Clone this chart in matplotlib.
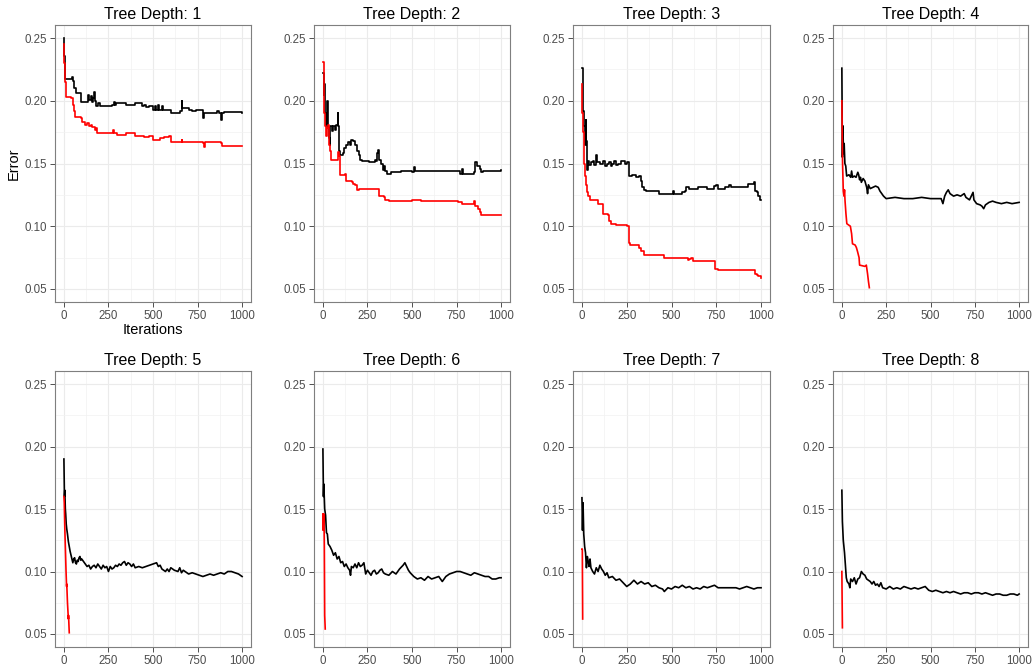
import matplotlib
matplotlib.use("Agg")
import matplotlib.pyplot as plt
from matplotlib.ticker import MultipleLocator

plt.rcParams['font.family'] = ['Liberation Sans', 'DejaVu Sans']

depths = [1, 2, 3, 4, 5, 6, 7, 8]
x_ticks = [0, 250, 500, 750, 1000]
y_ticks = [0.05, 0.10, 0.15, 0.20, 0.25]
y_tick_labels = ["0.05", "0.10", "0.15", "0.20", "0.25"]

# ---------------- Depth 1 ----------------
test_x_1 = [0, 3, 8, 45, 50, 58, 68, 98, 135, 138, 142, 150, 158, 165, 170, 173, 180, 190, 200, 270, 280, 285, 295,
            350, 400, 440, 450, 460, 480, 500, 510, 515, 530, 535, 550, 555, 600, 650, 660, 665, 700, 720, 740, 775,
            780, 785, 850, 860, 870, 880, 885, 900, 1000]
test_y_1 = [0.250, 0.236, 0.217, 0.219, 0.216, 0.210, 0.206, 0.199, 0.199, 0.205, 0.201, 0.204, 0.199, 0.202, 0.207,
            0.200, 0.196, 0.198, 0.196, 0.197, 0.199, 0.197, 0.198, 0.197, 0.198, 0.196, 0.197, 0.195, 0.196, 0.193,
            0.196, 0.193, 0.197, 0.193, 0.196, 0.193, 0.190, 0.192, 0.200, 0.194, 0.193, 0.192, 0.193, 0.193, 0.186,
            0.190, 0.190, 0.192, 0.190, 0.185, 0.190, 0.191, 0.190]
train_x_1 = [0, 3, 6, 9, 40, 50, 58, 63, 95, 100, 120, 130, 140, 150, 160, 175, 180, 185, 270, 278, 282, 300, 350,
             390, 400, 450, 480, 500, 540, 560, 590, 600, 660, 665, 780, 785, 790, 880, 890, 1000]
train_y_1 = [0.245, 0.230, 0.215, 0.203, 0.202, 0.197, 0.192, 0.187, 0.186, 0.183, 0.181, 0.182, 0.180, 0.181, 0.179,
             0.177, 0.178, 0.174, 0.174, 0.177, 0.174, 0.173, 0.174, 0.174, 0.172, 0.171, 0.172, 0.169, 0.170, 0.171,
             0.172, 0.167, 0.169, 0.167, 0.166, 0.163, 0.167, 0.166, 0.164, 0.164]

# ---------------- Depth 2 ----------------
test_x_2 = [0, 4, 8, 12, 18, 24, 28, 33, 38, 42, 50, 58, 66, 74, 82, 86, 90, 95, 110, 120, 130, 140, 150, 160, 170,
            180, 190, 200, 210, 220, 260, 290, 300, 305, 310, 315, 325, 335, 345, 350, 360, 380, 420, 440, 500, 510,
            515, 700, 760, 770, 780, 785, 850, 855, 865, 880, 890, 900, 1000]
test_y_2 = [0.222, 0.205, 0.213, 0.190, 0.180, 0.200, 0.178, 0.170, 0.165, 0.180, 0.176, 0.180, 0.177, 0.181, 0.190,
            0.180, 0.160, 0.157, 0.158, 0.162, 0.165, 0.167, 0.165, 0.169, 0.168, 0.165, 0.160, 0.157, 0.153, 0.152,
            0.151, 0.153, 0.152, 0.158, 0.161, 0.153, 0.150, 0.145, 0.148, 0.144, 0.142, 0.143, 0.143, 0.144, 0.143,
            0.147, 0.144, 0.144, 0.144, 0.142, 0.146, 0.142, 0.143, 0.151, 0.148, 0.146, 0.143, 0.144, 0.145]
train_x_2 = [0, 4, 8, 12, 16, 24, 30, 35, 40, 45, 80, 85, 92, 95, 125, 130, 165, 170, 180, 190, 200, 305, 315, 345,
             350, 370, 450, 500, 550, 650, 760, 780, 850, 855, 870, 880, 890, 1000]
train_y_2 = [0.231, 0.210, 0.190, 0.180, 0.172, 0.178, 0.181, 0.165, 0.160, 0.153, 0.153, 0.159, 0.156, 0.141, 0.142,
             0.136, 0.135, 0.134, 0.133, 0.129, 0.130, 0.130, 0.124, 0.123, 0.121, 0.120, 0.120, 0.121, 0.120, 0.120,
             0.119, 0.118, 0.120, 0.116, 0.114, 0.111, 0.109, 0.109]

# ---------------- Depth 3 ----------------
test_x_3 = [0, 4, 8, 12, 16, 20, 24, 28, 32, 40, 50, 60, 70, 80, 85, 100, 120, 130, 140, 150, 160, 170, 180, 190, 200,
            220, 240, 250, 260, 265, 280, 300, 320, 330, 335, 345, 360, 420, 430, 500, 510, 515, 560, 575, 580, 600,
            650, 700, 740, 750, 760, 800, 820, 830, 920, 925, 960, 965, 975, 985, 995, 1000]
test_y_3 = [0.226, 0.212, 0.192, 0.180, 0.165, 0.185, 0.168, 0.145, 0.152, 0.149, 0.151, 0.152, 0.149, 0.157, 0.151,
            0.150, 0.152, 0.148, 0.150, 0.151, 0.148, 0.150, 0.152, 0.149, 0.150, 0.152, 0.150, 0.151, 0.145, 0.140,
            0.141, 0.139, 0.140, 0.136, 0.131, 0.129, 0.128, 0.128, 0.126, 0.126, 0.128, 0.126, 0.127, 0.128, 0.131,
            0.130, 0.131, 0.130, 0.132, 0.133, 0.130, 0.131, 0.133, 0.131, 0.131, 0.134, 0.135, 0.128, 0.127, 0.124,
            0.121, 0.121]
train_x_3 = [0, 3, 6, 9, 13, 18, 22, 26, 35, 45, 90, 115, 120, 145, 150, 160, 190, 250, 260, 265, 270, 320, 330, 345,
             450, 460, 580, 590, 600, 610, 620, 640, 730, 745, 760, 960, 965, 975, 985, 1000]
train_y_3 = [0.213, 0.190, 0.175, 0.160, 0.150, 0.140, 0.133, 0.127, 0.124, 0.121, 0.118, 0.117, 0.110, 0.109, 0.104,
             0.102, 0.101, 0.100, 0.092, 0.087, 0.085, 0.083, 0.080, 0.077, 0.077, 0.075, 0.075, 0.073, 0.074, 0.075,
             0.072, 0.072, 0.072, 0.066, 0.065, 0.065, 0.062, 0.061, 0.060, 0.059]

# ---------------- Depth 4 ----------------
test_x_4 = [0, 3, 6, 9, 13, 17, 22, 27, 40, 50, 55, 60, 70, 80, 90, 95, 100, 105, 110, 120, 130, 140, 145, 150, 160,
            175, 190, 205, 215, 225, 235, 250, 300, 350, 400, 450, 500, 560, 570, 580, 590, 600, 610, 630, 650, 670,
            690, 700, 720, 740, 745, 760, 780, 790, 800, 810, 830, 850, 870, 900, 930, 960, 1000]
test_y_4 = [0.226, 0.155, 0.180, 0.158, 0.166, 0.150, 0.148, 0.140, 0.141, 0.139, 0.144, 0.139, 0.140, 0.139, 0.143,
            0.141, 0.137, 0.139, 0.135, 0.138, 0.136, 0.131, 0.126, 0.133, 0.130, 0.131, 0.132, 0.131, 0.128, 0.126,
            0.124, 0.122, 0.123, 0.122, 0.122, 0.123, 0.122, 0.122, 0.118, 0.124, 0.127, 0.129, 0.126, 0.124, 0.125,
            0.124, 0.126, 0.123, 0.121, 0.127, 0.121, 0.118, 0.117, 0.116, 0.114, 0.117, 0.119, 0.120, 0.119, 0.118,
            0.119, 0.118, 0.119]
train_x_4 = [0, 4, 8, 12, 15, 18, 23, 28, 48, 55, 60, 75, 82, 88, 97, 100, 130, 138, 145, 150, 155]
train_y_4 = [0.200, 0.150, 0.128, 0.124, 0.129, 0.120, 0.110, 0.102, 0.100, 0.094, 0.086, 0.085, 0.083, 0.080, 0.075,
             0.069, 0.068, 0.069, 0.062, 0.056, 0.051]

# ---------------- Depth 5 ----------------
test_x_5 = [0, 3, 5, 8, 10, 13, 16, 20, 25, 30, 35, 40, 45, 50, 55, 60, 65, 70, 75, 80, 85, 90, 95, 100, 110, 120,
            130, 140, 150, 160, 170, 180, 190, 200, 210, 220, 230, 240, 250, 260, 270, 280, 290, 300, 310, 320, 330,
            340, 350, 360, 370, 380, 390, 400, 420, 440, 460, 480, 500, 520, 530, 540, 550, 560, 570, 580, 590, 600,
            620, 640, 650, 660, 670, 680, 700, 720, 740, 760, 780, 800, 820, 840, 860, 880, 900, 920, 940, 960, 980,
            1000]
test_y_5 = [0.190, 0.160, 0.165, 0.150, 0.146, 0.138, 0.134, 0.130, 0.124, 0.120, 0.116, 0.113, 0.110, 0.107, 0.110,
            0.111, 0.107, 0.106, 0.109, 0.108, 0.111, 0.112, 0.109, 0.110, 0.108, 0.106, 0.104, 0.105, 0.102, 0.104,
            0.105, 0.103, 0.106, 0.104, 0.102, 0.105, 0.103, 0.104, 0.100, 0.104, 0.102, 0.103, 0.105, 0.104, 0.106,
            0.105, 0.107, 0.108, 0.105, 0.107, 0.106, 0.104, 0.106, 0.103, 0.104, 0.103, 0.104, 0.105, 0.106, 0.107,
            0.104, 0.105, 0.102, 0.101, 0.100, 0.102, 0.100, 0.103, 0.101, 0.100, 0.103, 0.099, 0.101, 0.100, 0.098,
            0.099, 0.098, 0.097, 0.096, 0.097, 0.098, 0.097, 0.098, 0.099, 0.098, 0.100, 0.100, 0.099, 0.098, 0.096]
train_x_5 = [0, 2, 5, 8, 12, 15, 16, 20, 25, 26, 30]
train_y_5 = [0.160, 0.155, 0.135, 0.120, 0.100, 0.088, 0.090, 0.075, 0.062, 0.065, 0.051]

# ---------------- Depth 6 ----------------
test_x_6 = [0, 3, 5, 10, 15, 20, 25, 30, 40, 50, 60, 70, 80, 90, 100, 110, 120, 130, 140, 150, 155, 160, 170, 180,
            190, 200, 210, 220, 230, 240, 250, 260, 270, 280, 290, 300, 310, 320, 330, 340, 350, 370, 390, 410, 430,
            450, 460, 470, 480, 490, 510, 530, 550, 570, 590, 610, 630, 650, 670, 690, 710, 730, 750, 770, 790, 810,
            830, 850, 870, 890, 910, 930, 950, 970, 990, 1000]
test_y_6 = [0.198, 0.160, 0.170, 0.150, 0.145, 0.131, 0.130, 0.122, 0.120, 0.117, 0.113, 0.115, 0.110, 0.112, 0.107,
            0.108, 0.104, 0.106, 0.103, 0.101, 0.097, 0.104, 0.103, 0.106, 0.103, 0.107, 0.104, 0.105, 0.107, 0.098,
            0.101, 0.099, 0.097, 0.100, 0.101, 0.098, 0.099, 0.101, 0.102, 0.099, 0.098, 0.097, 0.100, 0.098, 0.102,
            0.105, 0.107, 0.104, 0.101, 0.099, 0.096, 0.094, 0.095, 0.093, 0.096, 0.094, 0.095, 0.096, 0.092, 0.096,
            0.098, 0.099, 0.100, 0.100, 0.099, 0.098, 0.097, 0.099, 0.098, 0.097, 0.096, 0.096, 0.094, 0.094, 0.095,
            0.095]
train_x_6 = [0, 1, 3, 6, 8, 10, 13]
train_y_6 = [0.146, 0.133, 0.146, 0.146, 0.120, 0.065, 0.054]

# ---------------- Depth 7 ----------------
test_x_7 = [0, 3, 6, 10, 15, 20, 25, 30, 35, 40, 45, 50, 60, 70, 80, 90, 100, 110, 120, 130, 140, 150, 170, 190, 210,
            230, 250, 270, 290, 310, 330, 350, 370, 390, 410, 430, 450, 460, 480, 500, 520, 540, 560, 580, 600, 620,
            640, 660, 680, 700, 720, 740, 760, 860, 880, 900, 920, 940, 960, 980, 1000]
test_y_7 = [0.159, 0.133, 0.155, 0.130, 0.120, 0.115, 0.103, 0.112, 0.108, 0.104, 0.110, 0.103, 0.100, 0.098, 0.103,
            0.100, 0.105, 0.102, 0.100, 0.097, 0.099, 0.095, 0.096, 0.093, 0.094, 0.091, 0.088, 0.090, 0.093, 0.090,
            0.092, 0.090, 0.091, 0.088, 0.089, 0.087, 0.086, 0.084, 0.087, 0.086, 0.088, 0.087, 0.089, 0.087, 0.088,
            0.086, 0.087, 0.086, 0.088, 0.087, 0.088, 0.089, 0.087, 0.087, 0.086, 0.087, 0.088, 0.087, 0.086, 0.087,
            0.087]
train_x_7 = [0, 2, 4]
train_y_7 = [0.118, 0.118, 0.062]

# ---------------- Depth 8 ----------------
test_x_8 = [0, 3, 8, 15, 20, 25, 30, 40, 45, 50, 60, 70, 80, 90, 100, 110, 120, 130, 140, 150, 160, 170, 180, 190,
            200, 210, 220, 230, 250, 270, 290, 310, 330, 350, 370, 390, 410, 430, 450, 470, 490, 510, 530, 550, 570,
            590, 610, 630, 650, 670, 690, 710, 730, 750, 770, 790, 810, 830, 850, 870, 890, 910, 930, 950, 970, 990,
            1000]
test_y_8 = [0.165, 0.140, 0.125, 0.115, 0.105, 0.095, 0.092, 0.090, 0.087, 0.094, 0.092, 0.095, 0.090, 0.094, 0.095,
            0.100, 0.098, 0.097, 0.094, 0.093, 0.092, 0.090, 0.092, 0.089, 0.090, 0.088, 0.091, 0.087, 0.086, 0.088,
            0.086, 0.087, 0.086, 0.088, 0.087, 0.086, 0.087, 0.086, 0.087, 0.088, 0.085, 0.084, 0.085, 0.084, 0.083,
            0.084, 0.083, 0.084, 0.083, 0.082, 0.083, 0.083, 0.082, 0.083, 0.083, 0.082, 0.083, 0.082, 0.081, 0.082,
            0.082, 0.081, 0.081, 0.082, 0.082, 0.081, 0.082]
train_x_8 = [0, 3]
train_y_8 = [0.100, 0.055]

test_x = [test_x_1, test_x_2, test_x_3, test_x_4, test_x_5, test_x_6, test_x_7, test_x_8]
test_y = [test_y_1, test_y_2, test_y_3, test_y_4, test_y_5, test_y_6, test_y_7, test_y_8]
train_x = [train_x_1, train_x_2, train_x_3, train_x_4, train_x_5, train_x_6, train_x_7, train_x_8]
train_y = [train_y_1, train_y_2, train_y_3, train_y_4, train_y_5, train_y_6, train_y_7, train_y_8]

W, H = 1035, 667
fig = plt.figure(figsize=(W / 100, H / 100), dpi=100)

lefts = [55, 314, 573, 833]
rights = [251, 510, 770, 1028]
tops = [25, 371]
bottoms = [302, 647]

for i, d in enumerate(depths):
    r, c = divmod(i, 4)
    ax = fig.add_axes([lefts[c] / W, 1 - bottoms[r] / H, (rights[c] - lefts[c]) / W, (bottoms[r] - tops[r]) / H])
    ax.set_facecolor('white')
    ax.set_xlim(-50, 1050)
    ax.set_ylim(0.0396, 0.2604)
    ax.set_xticks(x_ticks)
    ax.set_xticklabels([str(t) for t in x_ticks])
    ax.set_yticks(y_ticks)
    ax.set_yticklabels(y_tick_labels)
    ax.xaxis.set_minor_locator(MultipleLocator(125))
    ax.yaxis.set_minor_locator(MultipleLocator(0.025))
    ax.grid(which='major', color='#EBEBEB', lw=0.8)
    ax.grid(which='minor', color='#F2F2F2', lw=0.5)
    ax.set_axisbelow(True)
    ax.tick_params(which='major', length=3.5, width=0.6, color='#333333', labelcolor='#4D4D4D',
                   labelsize=8.3, pad=2)
    ax.tick_params(which='minor', length=0)
    for s in ax.spines.values():
        s.set_color('#7F7F7F')
        s.set_linewidth(0.8)
    ds = 'steps-post' if d <= 3 else 'default'
    ax.plot(test_x[i], test_y[i], color='black', lw=1.2, drawstyle=ds)
    ax.plot(train_x[i], train_y[i], color='#FF0000', lw=1.2, drawstyle=ds)
    ax.set_title(f"Tree Depth: {d}", fontsize=11.5, pad=4, color='black')
    if i == 0:
        ax.set_ylabel("Error", fontsize=10.5, labelpad=3)
        ax.set_xlabel("Iterations", fontsize=10.5, labelpad=1)

fig.savefig("out.png", dpi=100, facecolor='white')
